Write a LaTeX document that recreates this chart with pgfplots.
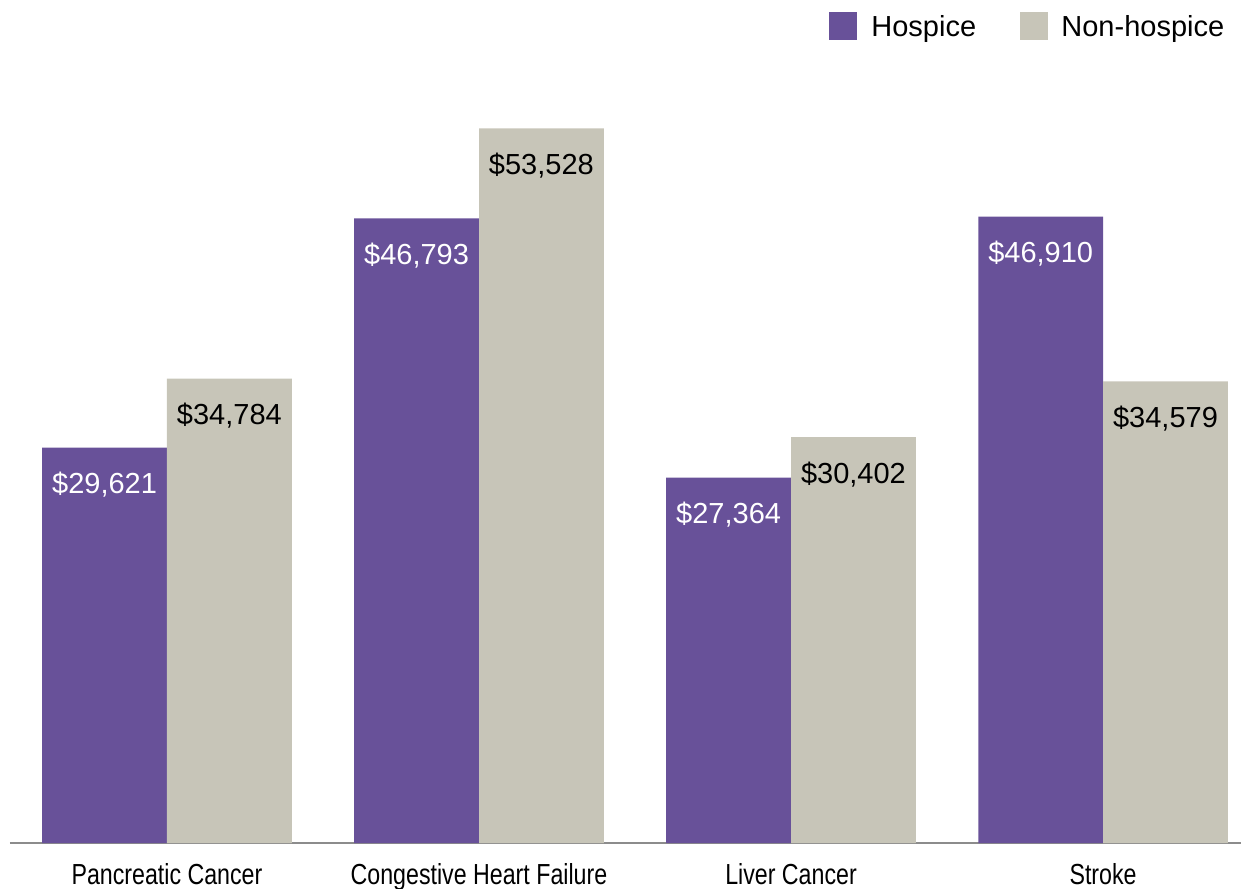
\documentclass[border=0pt]{standalone}
\usepackage{fontspec}
\setmainfont{Liberation Sans}
\newfontfamily\condfont[FakeStretch=0.8]{Liberation Sans}
\usepackage{pgfplots}
\pgfplotsset{compat=1.18}
\definecolor{hosp}{RGB}{104,81,153}
\definecolor{nonhosp}{RGB}{199,197,184}
\definecolor{axgray}{RGB}{140,140,140}
\begin{document}
\begin{tikzpicture}
\clip (-5pt,-22.5pt) rectangle (615.5pt,421.5pt);
\begin{axis}[
  at={(0,0)}, anchor=south west,
  scale only axis, width=615.5pt, height=400.5pt,
  xmin=-0.503, xmax=3.442, ymin=0, ymax=60000,
  enlargelimits=false, clip=false,
  hide y axis,
  axis x line*=bottom,
  x axis line style={axgray, line width=1pt},
  xtick={0,1,2,3},
  xticklabels={Pancreatic Cancer, Congestive Heart Failure, Liver Cancer, Stroke},
  major tick length=0pt,
  xticklabel style={anchor=base, yshift=-20.5pt, font=\condfont\fontsize{14.5}{17}\selectfont, text=black},
  /pgf/number format/assume math mode=true,
  nodes near coords={\$\pgfmathprintnumber[fixed, precision=0, 1000 sep={,}]{\pgfplotspointmeta}},
  nodes near coords style={anchor=base, yshift=-23pt, font=\fontsize{14.5}{17}\selectfont},
]
\addplot[ybar, bar width=0.4, bar shift=-0.2, fill=hosp, draw=none,
  nodes near coords style={text=white, xshift=-31.2pt}]
  coordinates {(0,29621) (1,46793) (2,27364) (3,46910)};
\addplot[ybar, bar width=0.4, bar shift=0.2, fill=nonhosp, draw=none,
  nodes near coords style={text=black, xshift=31.2pt}]
  coordinates {(0,34784) (1,53528) (2,30402) (3,34579)};
\end{axis}
\fill[hosp] (409.5pt,401.5pt) rectangle (423.5pt,415.5pt);
\node[anchor=base west, inner sep=0pt, font=\fontsize{14.5}{17}\selectfont] at (430.5pt,403pt) {Hospice};
\fill[nonhosp] (505pt,401.5pt) rectangle (519pt,415.5pt);
\node[anchor=base west, inner sep=0pt, font=\fontsize{14.5}{17}\selectfont] at (525.5pt,403pt) {Non-hospice};
\end{tikzpicture}
\end{document}
